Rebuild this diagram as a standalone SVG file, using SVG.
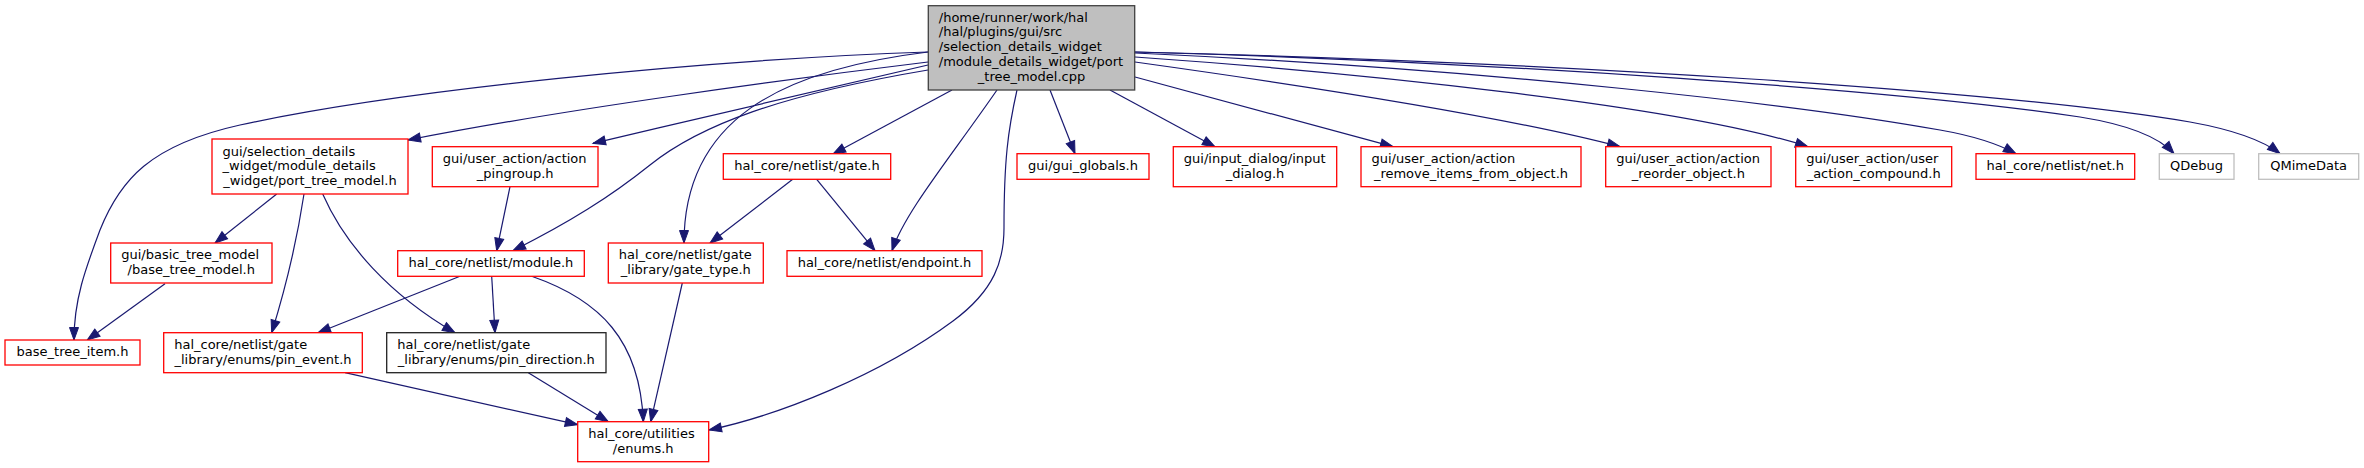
<svg xmlns="http://www.w3.org/2000/svg" width="2364" height="468" viewBox="0 0 2364 468">
<style>
text{font-family:"DejaVu Sans","Liberation Sans",sans-serif;font-size:13px;fill:#000}
.c{text-anchor:middle}
rect{fill:#fff;stroke-width:1.3}
.r{stroke:#ff0000}
.g{stroke:#bfbfbf}
.k{stroke:#222}
.m{fill:#bfbfbf;stroke:#404040}
#edges path{fill:none;stroke:#191970;stroke-width:1.2;marker-end:url(#arr)}
</style>
<defs>
<marker id="arr" markerUnits="userSpaceOnUse" markerWidth="13" markerHeight="10" refX="12.5" refY="4.5" orient="auto" overflow="visible">
<path d="M0,0 L12.5,4.5 L0,9 z" fill="#191970" stroke="#191970" stroke-width="1"/>
</marker>
</defs>
<rect x="0" y="0" width="2364" height="468" style="fill:#fff;stroke:none"/>
<g id="edges">
<path d="M928,52 C700,60 400,90 240,125 C150,145 120,180 100,230 C85,270 74,300 74,340"/>
<path d="M928,62 C780,80 560,110 408,140"/>
<path d="M928,65 C800,95 700,118 593,143.3"/>
<path d="M928,70 C780,95 700,125 650,165 C610,197 570,222 513,250.7"/>
<path d="M928,52 C780,70 684,120 684,243"/>
<path d="M952,90 L833,154"/>
<path d="M997,90 C950,158 905,212 892,250.7"/>
<path d="M1017,90 C1008,130 1004,160 1004,228 C1004,260 995,290 953,321 C880,375 780,415 709,430"/>
<path d="M1050,90 L1075,153.7"/>
<path d="M1110,90 L1215,146.7"/>
<path d="M1135,77 L1393,146.7"/>
<path d="M1135,62 C1300,85 1500,115 1620,146.7"/>
<path d="M1135,57 C1350,72 1680,105 1808,146.7"/>
<path d="M1135,53 C1500,70 1800,105 1940,130 C1980,137 2000,145 2016,153.7"/>
<path d="M1135,52 C1500,62 1900,90 2080,117 C2130,125 2160,138 2174,153.7"/>
<path d="M1135,52 C1550,62 2000,90 2190,122 C2240,131 2265,142 2280,153.7"/>
<path d="M276.7,194 L215,243"/>
<path d="M304,194 C297,240 285,290 271.7,332.7"/>
<path d="M322.7,194 C345,245 390,295 455,332.7"/>
<path d="M510,186.7 L496.7,250.7"/>
<path d="M792.7,179.3 L710,243"/>
<path d="M816.7,179.3 L875,250.7"/>
<path d="M165,283.7 L87.3,340"/>
<path d="M460,276.3 L318,332.7"/>
<path d="M491.7,276.3 L495,332.7"/>
<path d="M531.7,276.3 C600,300 640,340 643.3,421.7"/>
<path d="M682.3,283 L650.7,421.7"/>
<path d="M528.3,372.7 L608.3,421.7"/>
<path d="M345,372.7 L577.7,424.7"/>
</g>
<g id="n_main"><rect class="m" x="928.3" y="5.7" width="206.4" height="84.3"/>
<text x="938.8" y="21.7">/home/runner/work/hal</text><text x="938.8" y="36.4">/hal/plugins/gui/src</text><text x="938.8" y="51.1">/selection_details_widget</text><text x="938.8" y="65.8">/module_details_widget/port</text><text class="c" x="1031.5" y="80.5">_tree_model.cpp</text></g>
<g id="n_port_tree_model"><rect class="r" x="212" y="139" width="196" height="55"/>
<text x="222.5" y="155.7">gui/selection_details</text><text x="222.5" y="170.4">_widget/module_details</text><text class="c" x="310" y="185.1">_widget/port_tree_model.h</text></g>
<g id="n_pingroup"><rect class="r" x="432.3" y="146.7" width="165.7" height="40"/>
<text x="442.8" y="163">gui/user_action/action</text><text class="c" x="515.2" y="177.7">_pingroup.h</text></g>
<g id="n_gate"><rect class="r" x="723.3" y="153.7" width="167.4" height="25.6"/>
<text class="c" x="807" y="170.4">hal_core/netlist/gate.h</text></g>
<g id="n_gui_globals"><rect class="r" x="1017" y="153.7" width="132" height="25.6"/>
<text class="c" x="1083" y="170.4">gui/gui_globals.h</text></g>
<g id="n_input_dialog"><rect class="r" x="1173.3" y="146.7" width="163.4" height="40"/>
<text x="1183.8" y="163">gui/input_dialog/input</text><text class="c" x="1255" y="177.7">_dialog.h</text></g>
<g id="n_remove_items"><rect class="r" x="1361" y="146.7" width="220" height="40"/>
<text x="1371.5" y="163">gui/user_action/action</text><text class="c" x="1471" y="177.7">_remove_items_from_object.h</text></g>
<g id="n_reorder"><rect class="r" x="1605.7" y="146.7" width="165.3" height="40"/>
<text x="1616.2" y="163">gui/user_action/action</text><text class="c" x="1688.3" y="177.7">_reorder_object.h</text></g>
<g id="n_compound"><rect class="r" x="1795.7" y="146.7" width="156" height="40"/>
<text x="1806.2" y="163">gui/user_action/user</text><text class="c" x="1873.7" y="177.7">_action_compound.h</text></g>
<g id="n_net"><rect class="r" x="1976" y="153.7" width="158.7" height="25.6"/>
<text class="c" x="2055.3" y="170.4">hal_core/netlist/net.h</text></g>
<g id="n_qdebug"><rect class="g" x="2159.3" y="153.7" width="74.7" height="25.6"/>
<text class="c" x="2196.6" y="170.4">QDebug</text></g>
<g id="n_qmimedata"><rect class="g" x="2258.7" y="153.7" width="100" height="25.6"/>
<text class="c" x="2308.7" y="170.4">QMimeData</text></g>
<g id="n_base_tree_model"><rect class="r" x="110.7" y="243" width="161.3" height="40"/>
<text x="121.2" y="259.4">gui/basic_tree_model</text><text class="c" x="191.3" y="274.1">/base_tree_model.h</text></g>
<g id="n_module"><rect class="r" x="397.7" y="250.7" width="186.6" height="25.6"/>
<text class="c" x="491" y="267.4">hal_core/netlist/module.h</text></g>
<g id="n_gate_type"><rect class="r" x="608.3" y="243" width="155" height="40"/>
<text x="618.8" y="259.4">hal_core/netlist/gate</text><text class="c" x="685.8" y="274.1">_library/gate_type.h</text></g>
<g id="n_endpoint"><rect class="r" x="787" y="250.7" width="195" height="25.6"/>
<text class="c" x="884.5" y="267.4">hal_core/netlist/endpoint.h</text></g>
<g id="n_base_tree_item"><rect class="r" x="5" y="340" width="135" height="25"/>
<text class="c" x="72.5" y="356.4">base_tree_item.h</text></g>
<g id="n_pin_event"><rect class="r" x="163.7" y="332.7" width="198.6" height="40"/>
<text x="174.2" y="349.1">hal_core/netlist/gate</text><text class="c" x="263" y="363.8">_library/enums/pin_event.h</text></g>
<g id="n_pin_direction"><rect class="k" x="386.7" y="332.7" width="219.3" height="40"/>
<text x="397.2" y="349.1">hal_core/netlist/gate</text><text class="c" x="496.3" y="363.8">_library/enums/pin_direction.h</text></g>
<g id="n_enums"><rect class="r" x="577.7" y="421.7" width="131" height="40"/>
<text x="588.2" y="438.1">hal_core/utilities</text><text class="c" x="643.2" y="452.8">/enums.h</text></g>
</svg>
